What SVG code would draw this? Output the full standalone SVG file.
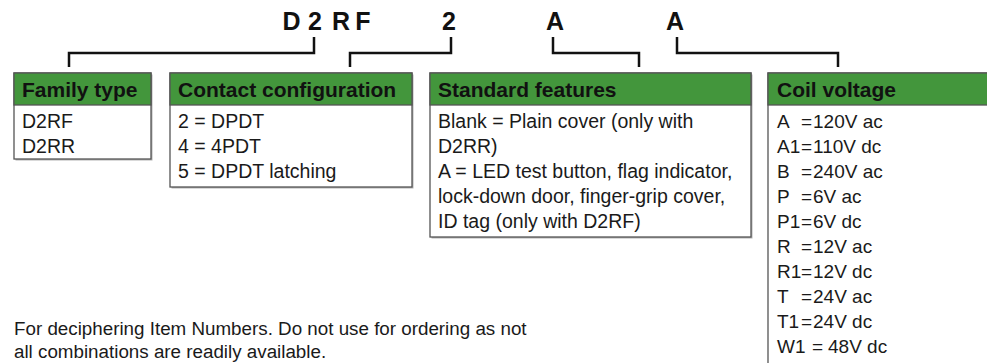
<svg xmlns="http://www.w3.org/2000/svg" width="987" height="363" viewBox="0 0 987 363">
<style>
.shadow{fill:#b3b3b3}
.box{fill:#ffffff;stroke:#555555;stroke-width:1.3}
.hdr{fill:#43963c;stroke:#555555;stroke-width:1.3}
.ht{font-family:"Liberation Sans",Arial,sans-serif;font-weight:bold;font-size:21px;fill:#111111}
.bt{font-family:"Liberation Sans",Arial,sans-serif;font-size:19.5px;fill:#1a1a1a}
.cv{font-family:"Liberation Sans",Arial,sans-serif;font-size:19px;fill:#1a1a1a}
.code{font-family:"Liberation Sans",Arial,sans-serif;font-weight:bold;font-size:25px;fill:#111111;text-anchor:middle}
.note{font-family:"Liberation Sans",Arial,sans-serif;font-size:18.8px;fill:#1a1a1a}
.conn{fill:none;stroke:#111111;stroke-width:2.5}
</style>
<g id="code">
<text class="code" x="291.5" y="30">D</text>
<text class="code" x="315" y="30">2</text>
<text class="code" x="341" y="30">R</text>
<text class="code" x="363" y="30">F</text>
<text class="code" x="449" y="30">2</text>
<text class="code" x="555" y="30">A</text>
<text class="code" x="675" y="30">A</text>
</g>
<g id="connectors">
<polyline class="conn" points="314,37 314,53 69,53 69,67"/>
<polyline class="conn" points="451,37 451,53 350,53 350,67"/>
<polyline class="conn" points="553,37 553,53 639,53 639,67"/>
<polyline class="conn" points="677,37 677,53 838,53 838,67"/>
</g>
<g id="family">
<rect class="shadow" x="15.5" y="74.5" width="137" height="86"/>
<rect class="box" x="14" y="73" width="137" height="86"/>
<rect class="hdr" x="14" y="73" width="137" height="32"/>
<text class="ht" x="22" y="97">Family type</text>
<text class="bt" x="22" y="128">D2RF</text>
<text class="bt" x="22" y="153">D2RR</text>
</g>
<g id="contact">
<rect class="shadow" x="171.5" y="74.5" width="242" height="114"/>
<rect class="box" x="170" y="73" width="242" height="114"/>
<rect class="hdr" x="170" y="73" width="242" height="32"/>
<text class="ht" x="178" y="97">Contact configuration</text>
<text class="bt" x="178" y="128">2 = DPDT</text>
<text class="bt" x="178" y="153">4 = 4PDT</text>
<text class="bt" x="178" y="178">5 = DPDT latching</text>
</g>
<g id="standard">
<rect class="shadow" x="431.5" y="74.5" width="321" height="164"/>
<rect class="box" x="430" y="73" width="321" height="164"/>
<rect class="hdr" x="430" y="73" width="321" height="32"/>
<text class="ht" x="438" y="97">Standard features</text>
<text class="bt" x="438" y="128">Blank = Plain cover (only with</text>
<text class="bt" x="438" y="153">D2RR)</text>
<text class="bt" x="438" y="178">A = LED test button, flag indicator,</text>
<text class="bt" x="438" y="203">lock-down door, finger-grip cover,</text>
<text class="bt" x="438" y="228">ID tag (only with D2RF)</text>
</g>
<g id="coil">
<rect class="box" x="768" y="73" width="230" height="300"/>
<rect class="hdr" x="768" y="73" width="230" height="32"/>
<text class="ht" x="777" y="97">Coil voltage</text>
<g class="cv">
<text x="777" y="128">A</text><text x="801" y="128">=</text><text x="813" y="128">120V ac</text>
<text x="777" y="153">A1</text><text x="801" y="153">=</text><text x="813" y="153">110V dc</text>
<text x="777" y="178">B</text><text x="801" y="178">=</text><text x="813" y="178">240V ac</text>
<text x="777" y="203">P</text><text x="801" y="203">=</text><text x="813" y="203">6V ac</text>
<text x="777" y="228">P1</text><text x="801" y="228">=</text><text x="813" y="228">6V dc</text>
<text x="777" y="253">R</text><text x="801" y="253">=</text><text x="813" y="253">12V ac</text>
<text x="777" y="278">R1</text><text x="801" y="278">=</text><text x="813" y="278">12V dc</text>
<text x="777" y="303">T</text><text x="801" y="303">=</text><text x="813" y="303">24V ac</text>
<text x="777" y="328">T1</text><text x="801" y="328">=</text><text x="813" y="328">24V dc</text>
<text x="777" y="353">W1</text><text x="812" y="353">=</text><text x="828" y="353">48V dc</text>
</g>
</g>
<g id="note">
<text class="note" x="14" y="335">For deciphering Item Numbers. Do not use for ordering as not</text>
<text class="note" x="14" y="358">all combinations are readily available.</text>
</g>
</svg>
